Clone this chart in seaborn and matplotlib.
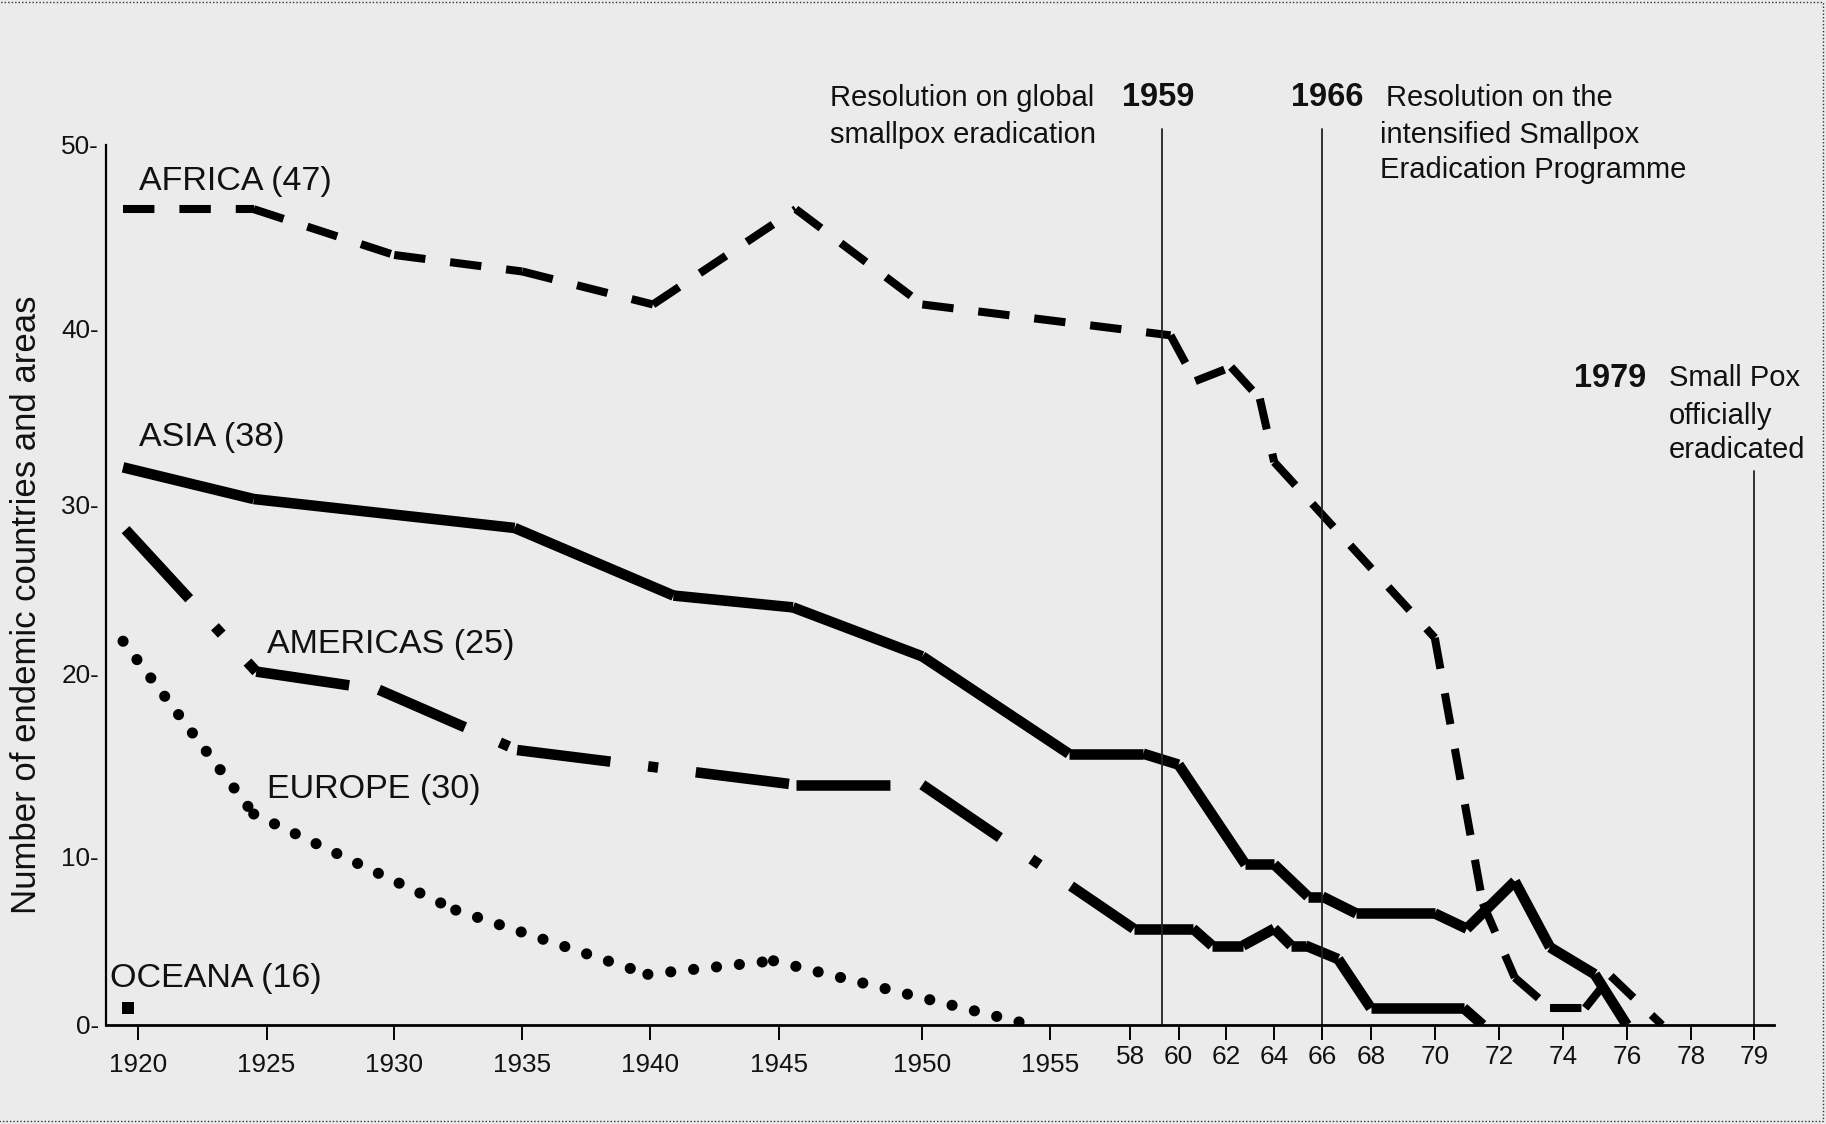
import numpy as np
import pandas as pd
import seaborn as sns
import matplotlib.pyplot as plt
from matplotlib.patches import Rectangle

sns.set_style("white")
plt.rcParams['font.family'] = ['Liberation Sans', 'DejaVu Sans']
plt.rcParams['axes.facecolor'] = '#ebebeb'
plt.rcParams['figure.facecolor'] = '#ebebeb'

W, H = 1826, 1124

# ---- data ----
africa_year = [1919.4, 1924.5, 1930, 1935, 1940.1, 1945.6, 1950, 1959.5, 1960.7, 1962.2,
               1963.4, 1964, 1970, 1971.5, 1972.5, 1973.6, 1974.7, 1975.5, 1977.1]
africa_val = [46.5, 46.5, 44.0, 43.1, 41.3, 46.5, 41.3, 39.6, 37.0, 37.8,
              36.0, 32.4, 22.1, 7.2, 2.8, 1.0, 1.0, 2.9, 0]

asia_year = [1919.4, 1924.5, 1934.7, 1940.9, 1945.5, 1950, 1955.7, 1958.4, 1960, 1962.8,
             1964, 1965.4, 1966, 1967.4, 1970, 1971, 1972.5, 1973.6, 1975, 1976]
asia_val = [32.1, 30.3, 28.6, 24.6, 23.9, 21.0, 15.6, 15.6, 15.0, 9.5,
            9.5, 7.6, 7.6, 6.6, 6.6, 5.7, 8.5, 4.6, 3.0, 0]

americas_year = [1919.5, 1924.6, 1929.4, 1934.8, 1945.6, 1950, 1958.1, 1960.6, 1961.4,
                 1962.7, 1964, 1964.7, 1965.3, 1966.65, 1968, 1970.9, 1971.5]
americas_val = [28.5, 20.1, 19.1, 15.8, 13.9, 13.9, 5.7, 5.7, 4.7,
                4.7, 5.7, 4.7, 4.7, 3.9, 1.0, 1.0, 0]

europe_year = [1919.4, 1924.5, 1932.4, 1939.9, 1944.8, 1954.0]
europe_val = [21.9, 12.3, 6.8, 3.0, 3.8, 0.1]

oceana_year = [1919.6]
oceana_val = [1.0]

tick_years = [1920, 1925, 1930, 1935, 1940, 1945, 1950, 1955, 1958, 1960, 1962, 1964,
              1966, 1968, 1970, 1972, 1974, 1976, 1978, 1979]
tick_labels = ['1920', '1925', '1930', '1935', '1940', '1945', '1950', '1955',
               '58', '60', '62', '64', '66', '68', '70', '72', '74', '76', '78', '79']
y_ticks = [0, 10, 20, 30, 40, 50]
y_tick_labels = ['0-', '10-', '20-', '30-', '40-', '50-']

# ---- uneven axes of the hand drawn original (pixel layout of the ticks) ----
x_knot_years = [1920, 1925, 1930, 1935, 1940, 1945, 1950, 1955, 1958, 1959, 1960, 1962,
                1964, 1966, 1968, 1970, 1972, 1974, 1976, 1978, 1979]
x_knot_px = [138.4, 266.5, 394.2, 522.3, 650.4, 778.6, 922.3, 1050, 1130.4, 1162.5, 1178.6,
             1226.3, 1274.2, 1322.4, 1370.8, 1434.8, 1498.8, 1562.8, 1626.8, 1690.8, 1754.4]
y_knot_px = [0, 169, 351.7, 520.7, 696.7, 880]


def interp_ext(v, xp, fp):
    v = np.asarray(v, dtype=float)
    lo = (fp[1] - fp[0]) / (xp[1] - xp[0])
    hi = (fp[-1] - fp[-2]) / (xp[-1] - xp[-2])
    out = np.interp(v, xp, fp)
    out = np.where(v < xp[0], fp[0] + (v - xp[0]) * lo, out)
    out = np.where(v > xp[-1], fp[-1] + (v - xp[-1]) * hi, out)
    return out


x_fwd = lambda v: interp_ext(v, x_knot_years, x_knot_px)
x_inv = lambda p: interp_ext(p, x_knot_px, x_knot_years)
y_fwd = lambda v: interp_ext(v, y_ticks, y_knot_px)
y_inv = lambda p: interp_ext(p, y_knot_px, y_ticks)


def segments(years, vals):
    # the original restarts its dash pattern at every vertex: one unit per segment
    rows = []
    for i in range(len(years) - 1):
        rows.append((years[i], vals[i], i))
        rows.append((years[i + 1], vals[i + 1], i))
    return pd.DataFrame(rows, columns=['year', 'value', 'seg'])


fig = plt.figure(figsize=(W / 100, H / 100), dpi=100)
ax = fig.add_axes([106 / W, (H - 1025) / H, (1774 - 106) / W, 880 / H])
ax.set_xscale('function', functions=(x_fwd, x_inv))
ax.set_yscale('function', functions=(y_fwd, y_inv))

# ---- series ----
common = dict(x='year', y='value', units='seg', estimator=None, sort=False, ax=ax,
              color='black')
sns.lineplot(data=segments(africa_year, africa_val), linewidth=5.8,
             linestyle=(0, (3.9, 3.1)), dash_capstyle='butt', **common)
sns.lineplot(data=segments(asia_year, asia_val), linewidth=7.6,
             solid_capstyle='butt', **common)
sns.lineplot(data=segments(americas_year, americas_val), linewidth=7.6,
             linestyle=(0, (8.9, 3.6, 0.95, 3.6)), dash_capstyle='butt', **common)
sns.lineplot(data=segments(europe_year, europe_val), linewidth=8,
             linestyle=(0, (0.01, 2.06)), dash_capstyle='round', **common)
sns.scatterplot(x=oceana_year, y=oceana_val, ax=ax, color='black', marker='s', s=70,
                linewidth=0)

# milestone lines
ax.axvline(1959, ymin=0, ymax=896 / 880, color='#222222', lw=1.3, clip_on=False)
ax.axvline(1966, ymin=0, ymax=896 / 880, color='#222222', lw=1.3, clip_on=False)
ax.axvline(1979, ymin=0, ymax=554 / 880, color='#222222', lw=1.3, clip_on=False)

# ---- axes styling ----
ax.set_xlim(float(x_inv(106)), float(x_inv(1774)))
ax.set_ylim(0, 50)
ax.set_xticks(tick_years)
ax.set_xticklabels(tick_labels)
ax.set_yticks(y_ticks)
ax.set_yticklabels(y_tick_labels)
ax.xaxis.set_minor_locator(plt.NullLocator())
ax.yaxis.set_minor_locator(plt.NullLocator())
ax.tick_params(axis='x', length=10.8, width=1.4, color='black', labelsize=18.8,
               pad=9, bottom=True, labelcolor='#111111')
ax.tick_params(axis='y', length=0, labelsize=18.8, pad=5, left=True, labelcolor='#111111')
for t in ax.xaxis.get_major_ticks()[8:]:
    t.set_pad(3.5)
for side in ['top', 'right']:
    ax.spines[side].set_visible(False)
ax.spines['left'].set_linewidth(1.6)
ax.spines['bottom'].set_linewidth(2.0)
ax.spines['left'].set_color('black')
ax.spines['bottom'].set_color('black')

ax.set_xlabel('')
ax.set_ylabel('Number of endemic countries and areas', fontsize=25, color='#111111',
              va='center')
ax.yaxis.set_label_coords((27 - 106) / 1668, (1025 - 605) / 880)


def px_text(x, y, s, **kw):
    fig.text(x / W, 1 - y / H, s, va='center', color='#111111', **kw)


# series labels
px_text(138.6, 181.7, 'AFRICA (47)', fontsize=24.5)
px_text(138.6, 437.9, 'ASIA (38)', fontsize=24.5)
px_text(266.7, 644, 'AMERICAS (25)', fontsize=24.5)
px_text(266.7, 789.5, 'EUROPE (30)', fontsize=24.5)
px_text(109.5, 978, 'OCEANA (16)', fontsize=24.5)

# milestone notes
px_text(830, 97.8, 'Resolution on global', fontsize=21)
px_text(830, 135, 'smallpox eradication', fontsize=21)
px_text(1158.6, 97.8, '1959', fontsize=23.5, fontweight='bold', ha='center')
px_text(1327.6, 97.8, '1966', fontsize=23.5, fontweight='bold', ha='center')
px_text(1386, 97.8, 'Resolution on the', fontsize=21)
px_text(1380, 135, 'intensified Smallpox', fontsize=21)
px_text(1380, 170, 'Eradication Programme', fontsize=21)
px_text(1610.5, 378.5, '1979', fontsize=23.5, fontweight='bold', ha='center')
px_text(1668.7, 378.5, 'Small Pox', fontsize=21)
px_text(1668.7, 415.7, 'officially', fontsize=21)
px_text(1668.7, 449.5, 'eradicated', fontsize=21)

# dotted frame of the original scan
fig.add_artist(Rectangle((-0.01, 1 - 1121 / H), 1823 / W + 0.01, 1119 / H, fill=False,
                         linestyle=(0, (1, 1.5)), linewidth=1, edgecolor='#333333',
                         transform=fig.transFigure))

plt.savefig('out.png', dpi=100, facecolor=fig.get_facecolor())
